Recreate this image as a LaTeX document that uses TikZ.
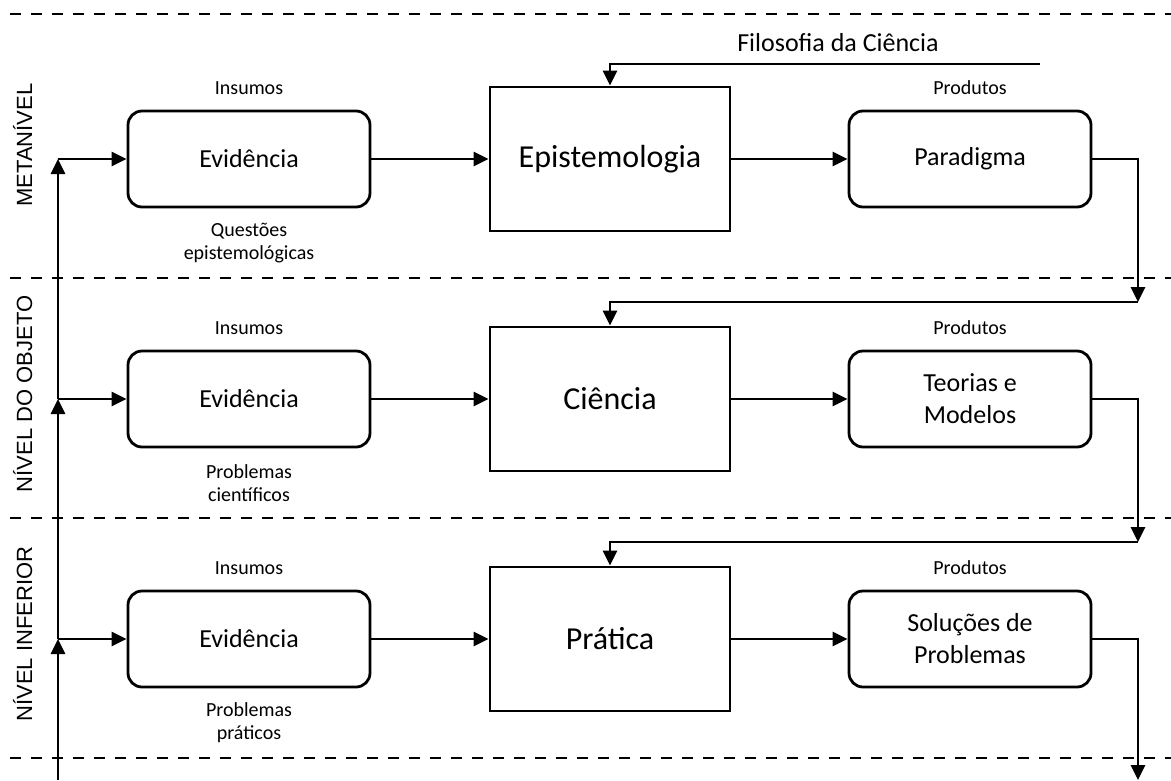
\documentclass[tikz,border=0pt]{standalone}
\usepackage{fontspec}
\setmainfont{Carlito}
\newfontfamily\arialf{Liberation Sans}
\usetikzlibrary{arrows.meta}
\begin{document}
\begin{tikzpicture}[x=1pt,y=-1pt,
  conn/.style={line width=2.8pt,-{Triangle[length=15pt,width=14pt]}},
  sep/.style={line width=2.2pt,dash pattern=on 11pt off 10pt},
  rbox/.style={draw,line width=2.8pt,rounded corners=14pt,minimum width=242pt,minimum height=96pt,align=center,font=\fontsize{26}{32}\selectfont},
  cbox/.style={draw,line width=2.8pt,minimum width=240pt,minimum height=144pt,font=\fontsize{32}{38}\selectfont},
  small/.style={align=center,font=\fontsize{20}{23}\selectfont},
  level/.style={rotate=90,anchor=base,font=\arialf\fontsize{22}{26}\selectfont}]
\useasboundingbox (0,0) rectangle (1171,780);
% separators
\draw[sep] (10,14) -- (1171,14);
\draw[sep] (10,278) -- (1171,278);
\draw[sep] (10,518) -- (1171,518);
\draw[sep] (10,758) -- (1171,758);
% level labels
\node[level] (lv1) at (32,145) {METANÍVEL};
\node[level] (lv2) at (32,394) {NÍVEL DO OBJETO};
\node[level] (lv3) at (32,634) {NÍVEL INFERIOR};
% row 1
\node[rbox] (ev1) at (249,159) {Evidência};
\node[cbox] (ep) at (610,159) {Epistemologia};
\node[rbox] (pa1) at (970,159) {Paradigma};
\node[small] (in1) at (249,88) {Insumos};
\node[small] (pr1) at (970,88) {Produtos};
\node[small] (q1) at (249,243) {Questões\\epistemológicas};
% row 2
\node[rbox] (ev2) at (249,399) {Evidência};
\node[cbox] (ci) at (610,399) {Ciência};
\node[rbox] (pa2) at (970,399) {Teorias e\\Modelos};
\node[small] (in2) at (249,328) {Insumos};
\node[small] (pr2) at (970,328) {Produtos};
\node[small] (q2) at (249,483) {Problemas\\científicos};
% row 3
\node[rbox] (ev3) at (249,639) {Evidência};
\node[cbox] (pt) at (610,639) {Prática};
\node[rbox] (pa3) at (970,639) {Soluções de\\Problemas};
\node[small] (in3) at (249,568) {Insumos};
\node[small] (pr3) at (970,568) {Produtos};
\node[small] (q3) at (249,723) {Problemas\\práticos};
% top input
\node[font=\fontsize{26}{30}\selectfont] (fil) at (838,43) {Filosofia da Ciência};
\coordinate (f1) at (1040,64);
\draw[conn] (f1) -| (ep.north);
% left feed
\coordinate (l0) at (58,780);
\coordinate (l3) at (58,639);
\coordinate (l2) at (58,399);
\coordinate (l1) at (58,159);
\draw[conn] (l0) -- (l3);
\draw[conn] (l3) -- (l2);
\draw[conn] (l2) -- (l1);
\draw[conn] (l1) -- (ev1.west);
\draw[conn] (l2) -- (ev2.west);
\draw[conn] (l3) -- (ev3.west);
% horizontal flows
\draw[conn] (ev1.east) -- (ep.west);
\draw[conn] (ep.east) -- (pa1.west);
\draw[conn] (ev2.east) -- (ci.west);
\draw[conn] (ci.east) -- (pa2.west);
\draw[conn] (ev3.east) -- (pt.west);
\draw[conn] (pt.east) -- (pa3.west);
% right feedback
\coordinate (r1) at (1138,302);
\coordinate (r2) at (1138,542);
\coordinate (r3) at (1138,780);
\draw[conn] (pa1.east) -| (r1);
\draw[conn] (r1) -| (ci.north);
\draw[conn] (pa2.east) -| (r2);
\draw[conn] (r2) -| (pt.north);
\draw[conn] (pa3.east) -| (r3);
\end{tikzpicture}
\end{document}
